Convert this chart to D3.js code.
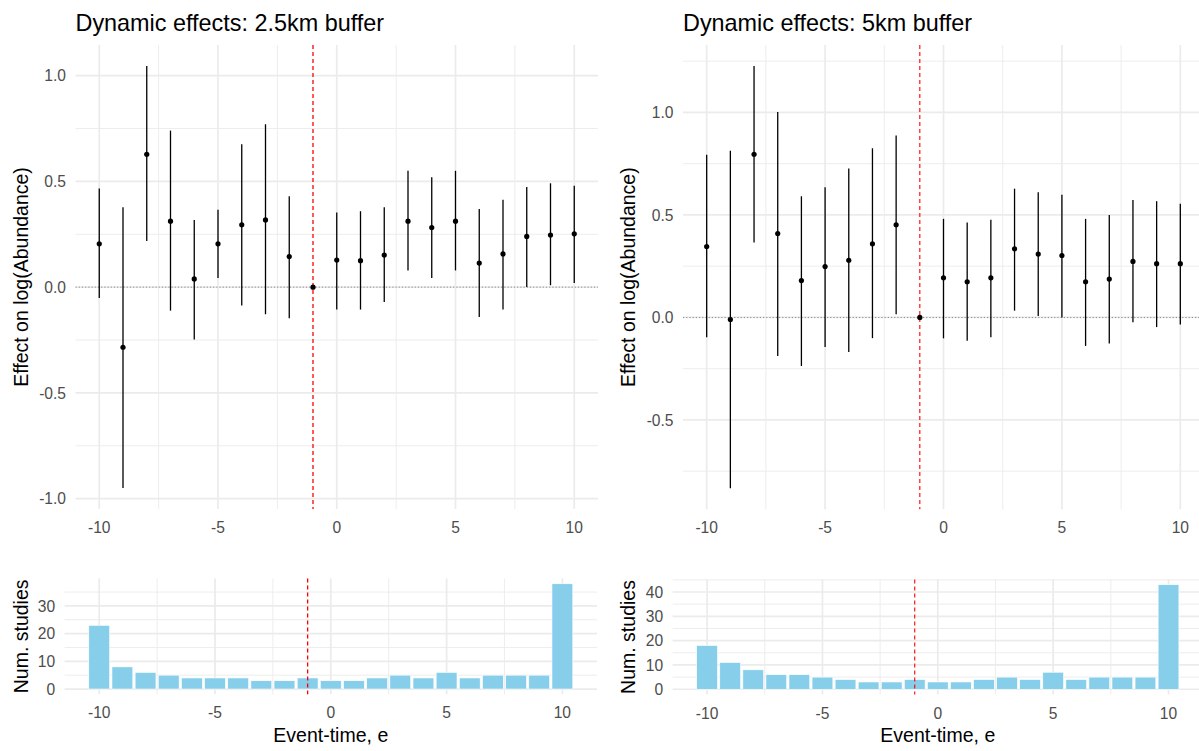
<!DOCTYPE html>
<html>
<head>
<meta charset="utf-8">
<script src="https://cdn.jsdelivr.net/npm/d3@7"></script>
<style>
  html, body { margin: 0; padding: 0; background: #ffffff; }
  svg { display: block; font-family: "Liberation Sans", Arial, sans-serif; }
</style>
</head>
<body>
<svg id="chart" width="1199" height="751"></svg>
<script>
// ---------------- DATA ----------------
const eventTime = [-10, -9, -8, -7, -6, -5, -4, -3, -2, -1, 0, 1, 2, 3, 4, 5, 6, 7, 8, 9, 10];

// 2.5 km buffer: estimates and confidence bounds
const est25 = [0.205, -0.284, 0.628, 0.312, 0.039, 0.205, 0.295, 0.318, 0.145, 0.000, 0.128, 0.125, 0.152, 0.312, 0.282, 0.312, 0.114, 0.157, 0.240, 0.246, 0.252];
const lo25  = [-0.051, -0.949, 0.218, -0.111, -0.248, 0.043, -0.087, -0.128, -0.147, null, -0.106, -0.106, -0.070, 0.079, 0.043, 0.079, -0.141, -0.106, 0.001, 0.009, 0.020];
const hi25  = [0.466, 0.378, 1.045, 0.740, 0.318, 0.366, 0.675, 0.770, 0.430, null, 0.353, 0.359, 0.378, 0.550, 0.520, 0.550, 0.370, 0.413, 0.473, 0.491, 0.479];

// 5 km buffer: estimates and confidence bounds
const est5 = [0.346, -0.010, 0.796, 0.409, 0.180, 0.248, 0.279, 0.359, 0.452, 0.000, 0.193, 0.174, 0.193, 0.335, 0.309, 0.302, 0.174, 0.187, 0.273, 0.262, 0.262];
const lo5  = [-0.097, -0.833, 0.365, -0.188, -0.237, -0.144, -0.169, -0.101, 0.016, null, -0.102, -0.114, -0.097, 0.033, 0.007, 0.000, -0.139, -0.127, -0.023, -0.047, -0.034];
const hi5  = [0.794, 0.813, 1.226, 1.002, 0.591, 0.635, 0.726, 0.825, 0.887, null, 0.481, 0.463, 0.476, 0.628, 0.611, 0.598, 0.481, 0.500, 0.573, 0.567, 0.554];

// Number of studies per event-time
const n25 = [23, 8, 6, 5, 4, 4, 4, 3, 3, 4, 3, 3, 4, 5, 4, 6, 4, 5, 5, 5, 38];
const n5  = [18, 11, 8, 6, 6, 5, 4, 3, 3, 4, 3, 3, 4, 5, 4, 7, 4, 5, 5, 5, 43];

// Tick values
const xMajor = [-10, -5, 0, 5, 10];
const xMinor = [-7.5, -2.5, 2.5, 7.5];
const titles = ["Dynamic effects: 2.5km buffer", "Dynamic effects: 5km buffer"];
const yTitleTop = "Effect on log(Abundance)";
const yTitleBottom = "Num. studies";
const xTitle = "Event-time, e";
const eventLine = -1;

// ---------------- STYLE / LAYOUT ----------------
const svg = d3.select("#chart");
const GRID = "#EBEBEB";
const TICK_COL = "#4D4D4D";
const FS_TICK = 15.6, FS_AXIS = 19.5, FS_TITLE = 23.4;

const layout = {
  topLeft:  { x0: 75.5, x1: 598,  y0: 45,    y1: 509 },
  topRight: { x0: 683,  x1: 1204, y0: 45,    y1: 509.3 },
  botLeft:  { x0: 64.6, x1: 597,  y0: 578.5, y1: 694.3 },
  botRight: { x0: 672.6, x1: 1203, y0: 579.5, y1: 694.5 }
};

function expand(lo, hi, m) { const r = hi - lo; return [lo - r * m, hi + r * m]; }

function minorBetween(major, domain) {
  const step = major[1] - major[0];
  const out = [];
  for (let i = -1; i < major.length; i++) {
    const v = (i < 0 ? major[0] - step : major[i]) + step / 2;
    if (v >= domain[0] && v <= domain[1]) out.push(v);
  }
  return out;
}

function drawGrid(g, box, x, y, yMajor, yMinorV) {
  g.selectAll(null).data(yMinorV).enter().append("line")
    .attr("x1", box.x0).attr("x2", box.x1)
    .attr("y1", d => y(d)).attr("y2", d => y(d))
    .attr("stroke", GRID).attr("stroke-width", 0.9);
  g.selectAll(null).data(xMinor).enter().append("line")
    .attr("y1", box.y0).attr("y2", box.y1)
    .attr("x1", d => x(d)).attr("x2", d => x(d))
    .attr("stroke", GRID).attr("stroke-width", 0.9);
  g.selectAll(null).data(yMajor).enter().append("line")
    .attr("x1", box.x0).attr("x2", box.x1)
    .attr("y1", d => y(d)).attr("y2", d => y(d))
    .attr("stroke", GRID).attr("stroke-width", 1.7);
  g.selectAll(null).data(xMajor).enter().append("line")
    .attr("y1", box.y0).attr("y2", box.y1)
    .attr("x1", d => x(d)).attr("x2", d => x(d))
    .attr("stroke", GRID).attr("stroke-width", 1.7);
}

function drawAxes(g, box, x, y, yMajor, yFmt) {
  g.selectAll(null).data(yMajor).enter().append("text")
    .attr("x", box.x0 - 9.5).attr("y", d => y(d))
    .attr("dy", "0.36em").attr("text-anchor", "end")
    .attr("font-size", FS_TICK).attr("fill", TICK_COL)
    .text(yFmt);
  g.selectAll(null).data(xMajor).enter().append("text")
    .attr("x", d => x(d)).attr("y", box.y1 + 24)
    .attr("text-anchor", "middle")
    .attr("font-size", FS_TICK).attr("fill", TICK_COL)
    .text(d => String(d));
}

function drawVLine(g, box, x, w) {
  g.append("line")
    .attr("x1", x(eventLine)).attr("x2", x(eventLine))
    .attr("y1", box.y0).attr("y2", box.y1)
    .attr("stroke", "red").attr("stroke-width", w)
    .attr("stroke-dasharray", "4,3");
}

function yTitle(text, xPos, box) {
  const cy = (box.y0 + box.y1) / 2;
  svg.append("text")
    .attr("transform", `translate(${xPos},${cy}) rotate(-90)`)
    .attr("text-anchor", "middle")
    .attr("font-size", FS_AXIS).attr("fill", "#000")
    .text(text);
}

// ---------------- EFFECT PANELS ----------------
function effectPanel(box, est, lo, hi, yMajor, title, yTitleX, vlineW) {
  const g = svg.append("g");
  const x = d3.scaleLinear().domain(expand(-10, 10, 0.05)).range([box.x0, box.x1]);
  const allV = lo.concat(hi, est).filter(v => v !== null);
  const yDom = expand(d3.min(allV), d3.max(allV), 0.05);
  const y = d3.scaleLinear().domain(yDom).range([box.y1, box.y0]);

  drawGrid(g, box, x, y, yMajor, minorBetween(yMajor, yDom));

  // zero reference line
  g.append("line")
    .attr("x1", box.x0).attr("x2", box.x1)
    .attr("y1", y(0)).attr("y2", y(0))
    .attr("stroke", "#8a8a8a").attr("stroke-width", 1)
    .attr("stroke-dasharray", "1.2,2");

  drawVLine(g, box, x, vlineW);

  const data = eventTime.map((e, i) => ({ e, est: est[i], lo: lo[i], hi: hi[i] }));
  g.selectAll(null).data(data.filter(d => d.lo !== null)).enter().append("line")
    .attr("x1", d => x(d.e)).attr("x2", d => x(d.e))
    .attr("y1", d => y(d.lo)).attr("y2", d => y(d.hi))
    .attr("stroke", "#000").attr("stroke-width", 1.3);
  g.selectAll(null).data(data).enter().append("circle")
    .attr("cx", d => x(d.e)).attr("cy", d => y(d.est))
    .attr("r", 2.6).attr("fill", "#000");

  drawAxes(g, box, x, y, yMajor, d => d.toFixed(1));

  svg.append("text")
    .attr("x", box.x0).attr("y", 30.5)
    .attr("font-size", FS_TITLE).attr("fill", "#000")
    .text(title);
  yTitle(yTitleTop, yTitleX, box);
}

// ---------------- COUNT PANELS ----------------
function countPanel(box, counts, yMajor, yTitleX, vlineW) {
  const g = svg.append("g");
  const barW = 0.9;
  const x = d3.scaleLinear().domain(expand(-10 - barW / 2, 10 + barW / 2, 0.05)).range([box.x0, box.x1]);
  const yDom = expand(0, d3.max(counts), 0.05);
  const y = d3.scaleLinear().domain(yDom).range([box.y1, box.y0]);

  drawGrid(g, box, x, y, yMajor, minorBetween(yMajor, yDom));

  const data = eventTime.map((e, i) => ({ e, n: counts[i] }));
  g.selectAll(null).data(data).enter().append("rect")
    .attr("x", d => x(d.e - barW / 2))
    .attr("width", d => x(d.e + barW / 2) - x(d.e - barW / 2))
    .attr("y", d => y(d.n))
    .attr("height", d => y(0) - y(d.n))
    .attr("fill", "#87CEEB").attr("stroke", "#ffffff").attr("stroke-width", 0.6);

  drawVLine(g, box, x, vlineW);
  drawAxes(g, box, x, y, yMajor, d => String(d));

  svg.append("text")
    .attr("x", (box.x0 + box.x1) / 2).attr("y", 742)
    .attr("text-anchor", "middle")
    .attr("font-size", FS_AXIS).attr("fill", "#000")
    .text(xTitle);
  yTitle(yTitleBottom, yTitleX, box);
}

effectPanel(layout.topLeft, est25, lo25, hi25, [-1, -0.5, 0, 0.5, 1], titles[0], 28, 1.3);
effectPanel(layout.topRight, est5, lo5, hi5, [-0.5, 0, 0.5, 1], titles[1], 635, 1.1);
countPanel(layout.botLeft, n25, [0, 10, 20, 30], 27.5, 1.3);
countPanel(layout.botRight, n5, [0, 10, 20, 30, 40], 635, 1.1);
</script>
</body>
</html>
